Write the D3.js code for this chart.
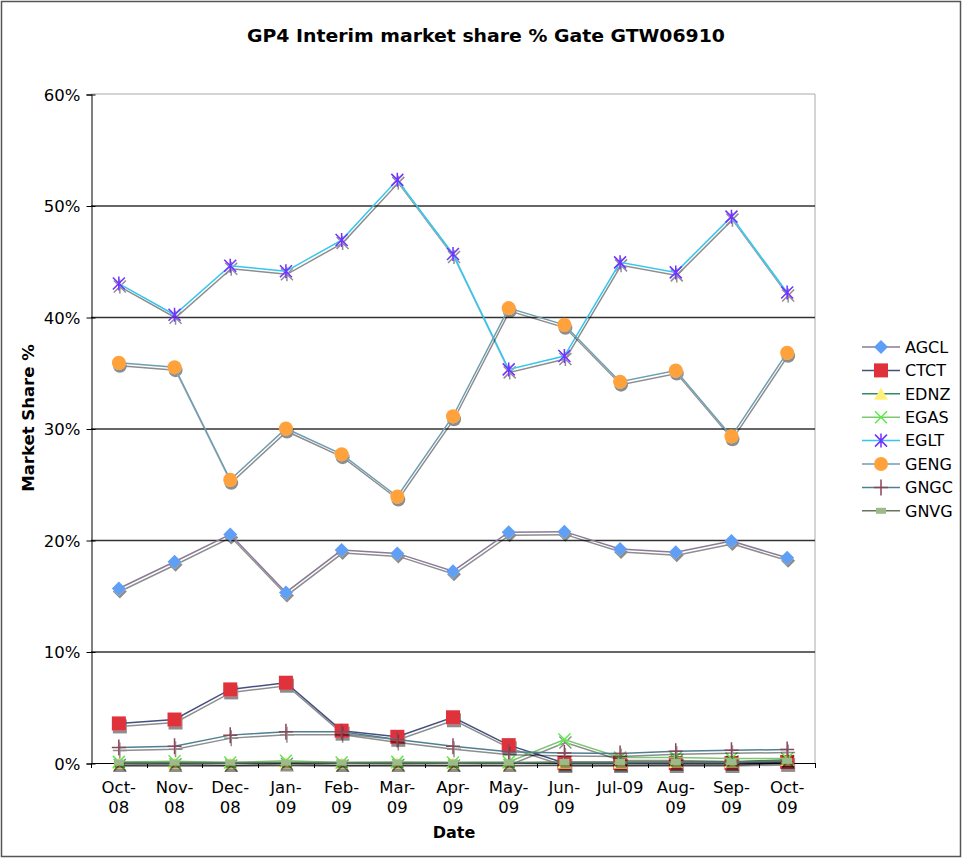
<!DOCTYPE html>
<html>
<head>
<meta charset="utf-8">
<script src="https://cdn.jsdelivr.net/npm/d3@7"></script>
<style>
body { margin: 0; background: #fff; }
text { font-family: "DejaVu Sans", Verdana, sans-serif; fill: #000; }
</style>
</head>
<body>
<script>
//categories along the x axis
var months = ["Oct-08", "Nov-08", "Dec-08", "Jan-09", "Feb-09", "Mar-09", "Apr-09",
              "May-09", "Jun-09", "Jul-09", "Aug-09", "Sep-09", "Oct-09"];

//market share values (%)
var AGCL = [15.65, 18.05, 20.5, 15.3, 19.1, 18.8, 17.2, 20.7, 20.75, 19.2, 18.9, 19.9, 18.4];
var CTCT = [3.55, 3.9, 6.6, 7.2, 2.9, 2.35, 4.1, 1.6, 0.0, 0.0, 0.0, 0.0, 0.1];
var EDNZ = [0.0, 0.0, 0.0, 0.05, 0.0, 0.0, 0.0, 0.0, 0.05, 0.05, 0.1, 0.1, 0.3];
var EGAS = [0.1, 0.15, 0.05, 0.2, 0.05, 0.1, 0.05, 0.1, 2.1, 0.5, 0.5, 0.4, 0.4];
var EGLT = [43.0, 40.2, 44.6, 44.1, 46.9, 52.3, 45.65, 35.3, 36.5, 44.9, 44.0, 49.0, 42.2];
var GENG = [35.9, 35.5, 25.4, 30.0, 27.7, 23.9, 31.1, 40.8, 39.3, 34.2, 35.2, 29.3, 36.8];
var GNGC = [1.4, 1.5, 2.5, 2.8, 2.8, 2.1, 1.5, 1.0, 0.9, 0.85, 1.05, 1.15, 1.2];
var GNVG = [0.05, 0.05, 0.05, 0.05, 0.05, 0.05, 0.05, 0.05, 0.1, 0.1, 0.1, 0.1, 0.2];

var seriesNames = ["AGCL", "CTCT", "EDNZ", "EGAS", "EGLT", "GENG", "GNGC", "GNVG"];
var seriesValues = [AGCL, CTCT, EDNZ, EGAS, EGLT, GENG, GNGC, GNVG];

//y axis ticks
var yTicks = [0, 10, 20, 30, 40, 50, 60];

//line colour, marker type and marker colour per series
var styles = {
    AGCL: { line: "#8a7a98", marker: "diamond", fill: "#5e9ff5" },
    CTCT: { line: "#44507e", marker: "square", fill: "#e0303a" },
    EDNZ: { line: "#2f8a66", marker: "triangle", fill: "#fff07a" },
    EGAS: { line: "#7cc870", marker: "cross", fill: "#55ee44" },
    EGLT: { line: "#33c6ee", marker: "asterisk", fill: "#7030ff" },
    GENG: { line: "#6f9db0", marker: "circle", fill: "#ffa23a" },
    GNGC: { line: "#4f7f90", marker: "plus", fill: "#8a4658" },
    GNVG: { line: "#66745e", marker: "rect", fill: "#9cbb88" }
};

var width = 963,
    height = 859;

var svg = d3.select("body")
    .append("svg")
    .attr("width", width)
    .attr("height", height);

//drop shadow used by the lines and markers
var filter = svg.append("defs")
    .append("filter")
    .attr("id", "shadow")
    .attr("filterUnits", "userSpaceOnUse")
    .attr("x", 0).attr("y", 0)
    .attr("width", width).attr("height", height);
filter.append("feOffset")
    .attr("in", "SourceAlpha")
    .attr("dx", 1)
    .attr("dy", 2.5)
    .attr("result", "off");
filter.append("feComponentTransfer")
    .attr("in", "off")
    .attr("result", "soft")
    .append("feFuncA")
    .attr("type", "linear")
    .attr("slope", 0.45);
var merge = filter.append("feMerge");
merge.append("feMergeNode").attr("in", "soft");
merge.append("feMergeNode").attr("in", "SourceGraphic");

//outer frame
svg.append("rect")
    .attr("x", 1.5).attr("y", 1.5)
    .attr("width", width - 4).attr("height", height - 4)
    .attr("fill", "#fff")
    .attr("stroke", "#555")
    .attr("stroke-width", 1.5);

var plot = { left: 91, right: 815, top: 94, bottom: 763 };

var x = d3.scalePoint()
    .domain(months)
    .range([plot.left, plot.right])
    .padding(0.5);

var y = d3.scaleLinear()
    .domain([0, 60])
    .range([plot.bottom, plot.top]);

//title
svg.append("text")
    .attr("x", 486)
    .attr("y", 42)
    .attr("text-anchor", "middle")
    .attr("font-weight", "bold")
    .attr("font-size", 18)
    .attr("textLength", 478)
    .attr("lengthAdjust", "spacingAndGlyphs")
    .text("GP4 Interim market share % Gate GTW06910");

//plot border (top and right light grey)
svg.append("path")
    .attr("d", "M" + plot.left + "," + plot.top + "H" + plot.right + "V" + plot.bottom)
    .attr("fill", "none")
    .attr("stroke", "#aaa")
    .attr("stroke-width", 1);

//horizontal gridlines
svg.selectAll(".grid")
    .data(yTicks.filter(function(d) { return d > 0 && d < 60; }))
    .enter()
    .append("line")
    .attr("class", "grid")
    .attr("x1", plot.left)
    .attr("x2", plot.right)
    .attr("y1", function(d) { return y(d) + 0.5; })
    .attr("y2", function(d) { return y(d) + 0.5; })
    .attr("stroke", "#333")
    .attr("stroke-width", 1.3);

//y axis
var yAxis = svg.append("g")
    .attr("transform", "translate(" + (plot.left + 0.5) + ",0.5)")
    .call(d3.axisLeft(y)
        .tickValues(yTicks)
        .tickSize(5)
        .tickPadding(6)
        .tickFormat(function(d) { return d + "%"; }));
yAxis.select(".domain").attr("stroke", "#000");
yAxis.selectAll(".tick line").attr("x2", 4).attr("x1", -5).attr("stroke", "#000");
yAxis.selectAll("text")
    .attr("font-size", 16.5)
    .attr("font-family", "DejaVu Sans")
    .attr("dy", "0.35em");

//x axis: ticks at category boundaries
var step = x.step();
var bounds = d3.range(months.length + 1).map(function(i) { return plot.left + i * step; });

svg.append("line")
    .attr("x1", plot.left).attr("x2", plot.right)
    .attr("y1", plot.bottom + 0.5).attr("y2", plot.bottom + 0.5)
    .attr("stroke", "#000");

svg.selectAll(".xtick")
    .data(bounds)
    .enter()
    .append("line")
    .attr("class", "xtick")
    .attr("x1", function(d) { return Math.round(d) + 0.5; })
    .attr("x2", function(d) { return Math.round(d) + 0.5; })
    .attr("y1", plot.bottom)
    .attr("y2", plot.bottom + 5)
    .attr("stroke", "#000");

//x tick labels, wrapped at the dash like the original
var xLabels = svg.selectAll(".xlabel")
    .data(months)
    .enter()
    .append("text")
    .attr("class", "xlabel")
    .attr("text-anchor", "middle")
    .attr("font-size", 16.5);

xLabels.each(function(d) {
    var t = d3.select(this);
    var parts = d === "Jul-09" ? [d] : [d.split("-")[0] + "-", d.split("-")[1]];
    parts.forEach(function(p, i) {
        t.append("tspan")
            .attr("x", x(d))
            .attr("y", 793 + i * 20)
            .text(p);
    });
});

//axis titles
svg.append("text")
    .attr("x", 454)
    .attr("y", 838)
    .attr("text-anchor", "middle")
    .attr("font-weight", "bold")
    .attr("font-size", 16)
    .text("Date");

svg.append("text")
    .attr("transform", "translate(34,418) rotate(-90)")
    .attr("text-anchor", "middle")
    .attr("font-weight", "bold")
    .attr("font-size", 16.5)
    .text("Market Share %");

//marker drawing helper
function drawMarker(g, type, fill, cx, cy) {
    if (type === "diamond") {
        g.append("path")
            .attr("d", "M" + cx + "," + (cy - 7) + "L" + (cx + 7) + "," + cy + "L" + cx + "," + (cy + 7) + "L" + (cx - 7) + "," + cy + "Z")
            .attr("fill", fill);
    } else if (type === "square") {
        g.append("rect")
            .attr("x", cx - 7).attr("y", cy - 7)
            .attr("width", 14).attr("height", 14)
            .attr("fill", fill);
    } else if (type === "triangle") {
        g.append("path")
            .attr("d", "M" + cx + "," + (cy - 6) + "L" + (cx + 7) + "," + (cy + 6) + "L" + (cx - 7) + "," + (cy + 6) + "Z")
            .attr("fill", fill);
    } else if (type === "cross") {
        g.append("path")
            .attr("d", "M" + (cx - 6) + "," + (cy - 6) + "L" + (cx + 6) + "," + (cy + 6) + "M" + (cx + 6) + "," + (cy - 6) + "L" + (cx - 6) + "," + (cy + 6))
            .attr("stroke", fill).attr("stroke-width", 1.5);
    } else if (type === "asterisk") {
        g.append("path")
            .attr("d", "M" + (cx - 6) + "," + (cy - 6) + "L" + (cx + 6) + "," + (cy + 6) + "M" + (cx + 6) + "," + (cy - 6) + "L" + (cx - 6) + "," + (cy + 6) +
                "M" + cx + "," + (cy - 7) + "L" + cx + "," + (cy + 7))
            .attr("stroke", fill).attr("stroke-width", 1.5);
    } else if (type === "circle") {
        g.append("circle")
            .attr("cx", cx).attr("cy", cy).attr("r", 7)
            .attr("fill", fill);
    } else if (type === "plus") {
        g.append("path")
            .attr("d", "M" + (cx - 7) + "," + cy + "L" + (cx + 7) + "," + cy + "M" + cx + "," + (cy - 8) + "L" + cx + "," + (cy + 8))
            .attr("stroke", fill).attr("stroke-width", 1.5);
    } else if (type === "rect") {
        g.append("rect")
            .attr("x", cx - 5).attr("y", cy - 3)
            .attr("width", 10).attr("height", 6)
            .attr("fill", fill);
    }
}

var line = d3.line()
    .x(function(d, i) { return x(months[i]); })
    .y(function(d) { return y(d); });

//draw each series: line then markers, all with the drop shadow
seriesNames.forEach(function(name, k) {
    var st = styles[name];
    var g = svg.append("g")
        .attr("class", "series " + name)
        .attr("filter", "url(#shadow)");

    g.append("path")
        .datum(seriesValues[k])
        .attr("d", line)
        .attr("fill", "none")
        .attr("stroke", st.line)
        .attr("stroke-width", 1.5);

    seriesValues[k].forEach(function(v, i) {
        drawMarker(g, st.marker, st.fill, x(months[i]), y(v));
    });
});

//legend
var legend = svg.append("g")
    .attr("class", "legend");

seriesNames.forEach(function(name, k) {
    var st = styles[name];
    var ly = 347 + k * 23.4;
    var row = legend.append("g");
    row.append("line")
        .attr("x1", 862).attr("x2", 900)
        .attr("y1", ly).attr("y2", ly)
        .attr("stroke", st.line)
        .attr("stroke-width", 1.5);
    drawMarker(row, st.marker, st.fill, 881, ly);
    row.append("text")
        .attr("x", 905)
        .attr("y", ly)
        .attr("dy", "0.36em")
        .attr("font-size", 16)
        .text(name);
});
</script>
</body>
</html>
